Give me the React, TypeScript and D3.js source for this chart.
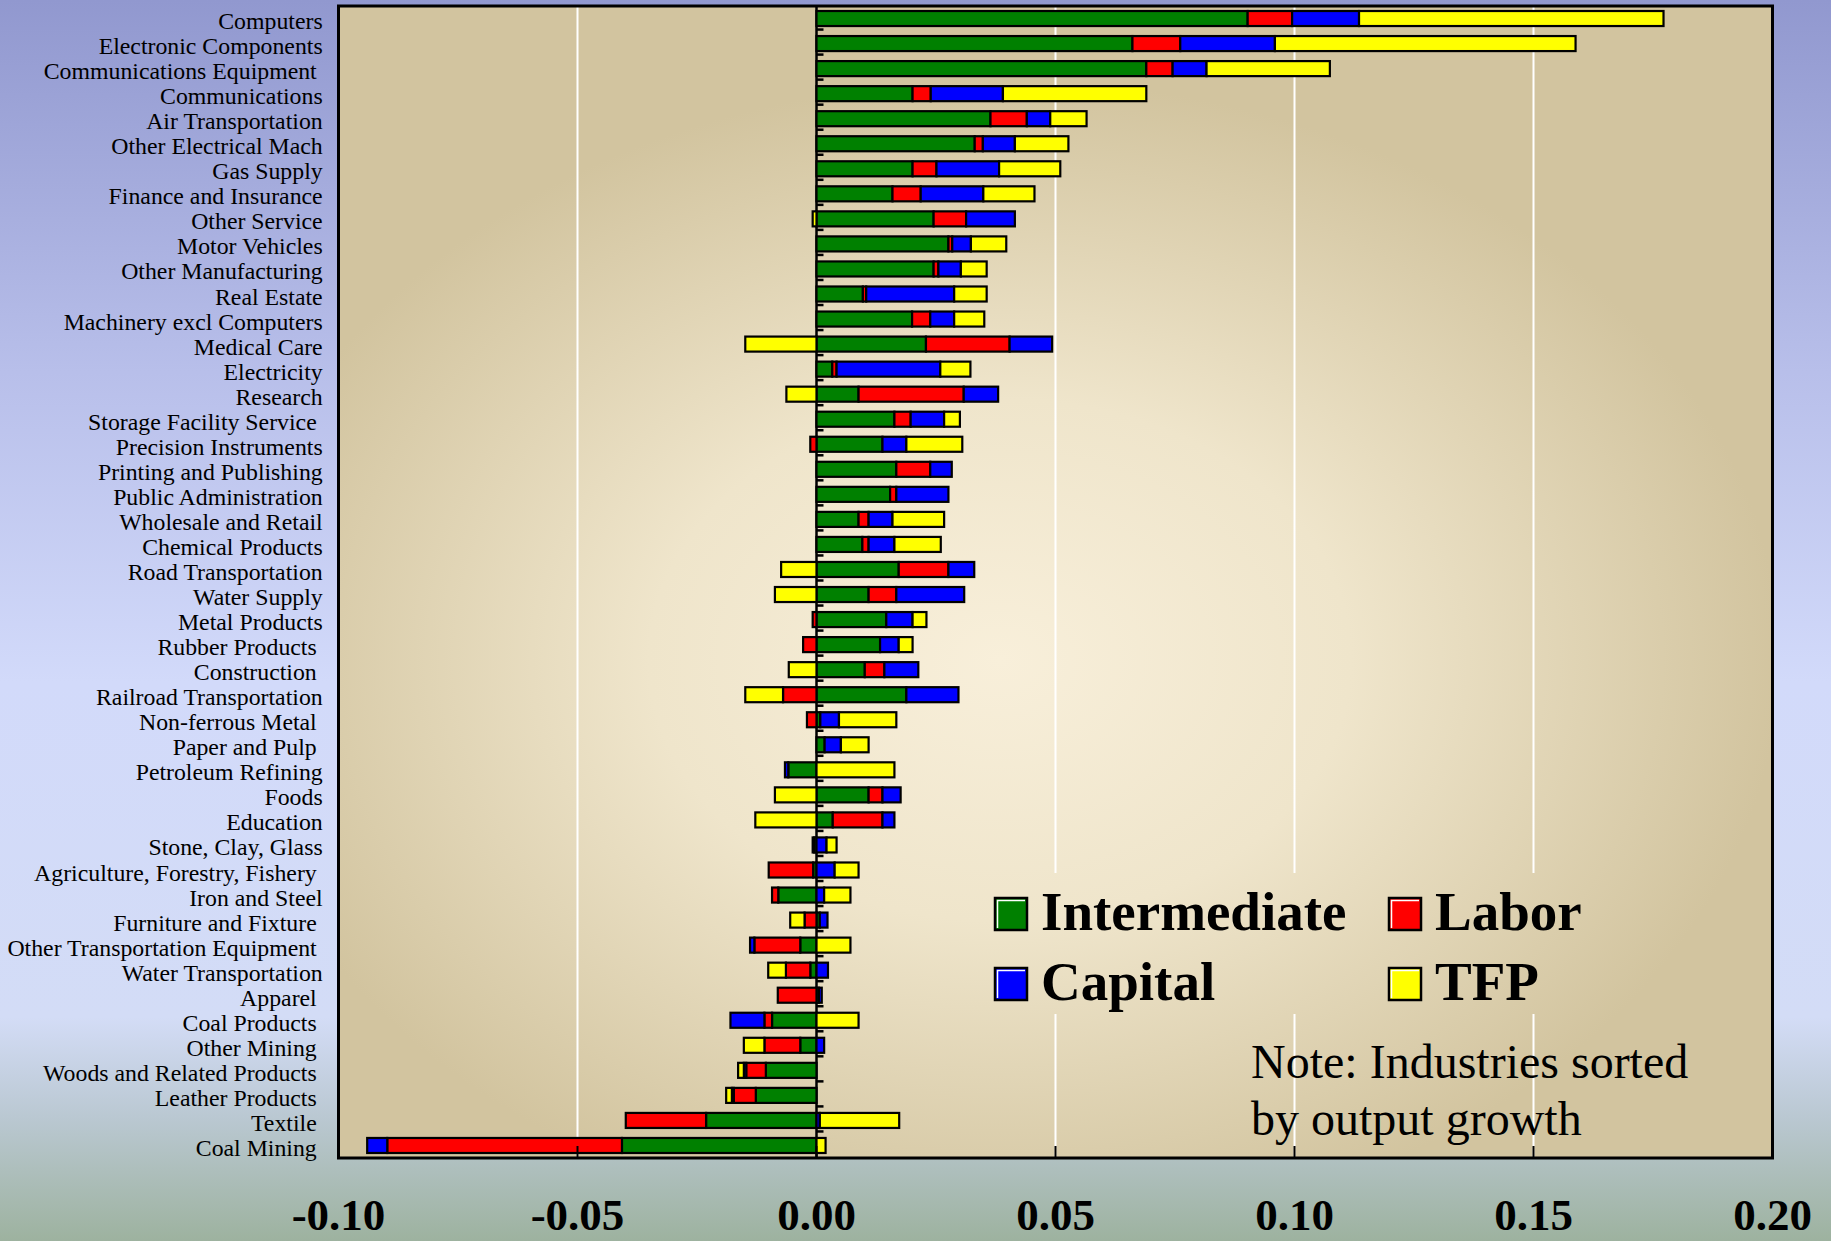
import React from 'react';
import * as d3 from 'd3';

const categories = [
  'Computers', 'Electronic Components', 'Communications Equipment ', 'Communications',
  'Air Transportation', 'Other Electrical Mach', 'Gas Supply', 'Finance and Insurance',
  'Other Service', 'Motor Vehicles', 'Other Manufacturing', 'Real Estate',
  'Machinery excl Computers', 'Medical Care', 'Electricity', 'Research',
  'Storage Facility Service ', 'Precision Instruments', 'Printing and Publishing',
  'Public Administration', 'Wholesale and Retail', 'Chemical Products', 'Road Transportation',
  'Water Supply', 'Metal Products', 'Rubber Products ', 'Construction ',
  'Railroad Transportation', 'Non-ferrous Metal ', 'Paper and Pulp ', 'Petroleum Refining',
  'Foods', 'Education', 'Stone, Clay, Glass', 'Agriculture, Forestry, Fishery ',
  'Iron and Steel', 'Furniture and Fixture ', 'Other Transportation Equipment ',
  'Water Transportation', 'Apparel ', 'Coal Products ', 'Other Mining ',
  'Woods and Related Products ', 'Leather Products ', 'Textile ', 'Coal Mining ',
];

const intermediate = [
  0.0902, 0.0661, 0.069, 0.0201, 0.0364, 0.0331, 0.0201, 0.0159, 0.0245, 0.0276, 0.0245, 0.0097,
  0.02, 0.0229, 0.0033, 0.0088, 0.0163, 0.0138, 0.0167, 0.0154, 0.0088, 0.0096, 0.0172,
  0.0109, 0.0146, 0.0133, 0.0101, 0.0188, 0.0008, 0.0017, -0.0059, 0.0109, 0.0034, -0.0005,
  -0.0007, -0.008, 0.0007, -0.0034, -0.0013, 0.0005, -0.0093, -0.0034, -0.0106, -0.0127,
  -0.0231, -0.0407,
];
const labor = [
  0.0093, 0.01, 0.0055, 0.0038, 0.0076, 0.0017, 0.005, 0.0059, 0.0068, 0.0008, 0.001, 0.0007,
  0.0038, 0.0175, 0.0009, 0.022, 0.0034, -0.0013, 0.0071, 0.0013, 0.0021, 0.0013, 0.0104,
  0.0058, -0.0008, -0.0028, 0.0041, -0.007, -0.002, 0, 0, 0.0029, 0.0104, -0.0003,
  -0.0093, -0.0013, -0.0025, -0.0096, -0.0051, -0.0081, -0.0016, -0.0075, -0.0041, -0.0046,
  -0.0168, -0.0491,
];
const capital = [
  0.014, 0.0198, 0.0071, 0.0151, 0.0049, 0.0067, 0.0131, 0.0131, 0.0102, 0.0039, 0.0047, 0.0184,
  0.005, 0.0089, 0.0217, 0.0072, 0.007, 0.005, 0.0045, 0.0109, 0.005, 0.0054, 0.0054,
  0.0142, 0.0055, 0.0039, 0.0071, 0.0109, 0.0039, 0.0034, -0.0007, 0.0038, 0.0025, 0.0021,
  0.0038, 0.0016, 0.0016, -0.0009, 0.0024, 0.0006, -0.0071, 0.0016, -0.0005, -0.0004,
  0.0007, -0.0042,
];
const tfp = [
  0.0637, 0.0629, 0.0258, 0.03, 0.0076, 0.0112, 0.0128, 0.0107, -0.0008, 0.0074, 0.0054, 0.0068,
  0.0063, -0.0149, 0.0063, -0.0063, 0.0033, 0.0117, 0, 0, 0.0108, 0.0097, -0.0074,
  -0.0087, 0.0029, 0.0029, -0.0058, -0.0079, 0.012, 0.0058, 0.0163, -0.0087, -0.0128, 0.0021,
  0.005, 0.0055, -0.003, 0.0071, -0.0037, 0, 0.0088, -0.0043, -0.0012, -0.0012,
  0.0166, 0.0019,
];

const seriesKeys = ['Intermediate', 'Labor', 'Capital', 'TFP'];
const seriesColors = ['#008000', '#ff0000', '#0000ff', '#ffff00'];
const xTicks = [-0.1, -0.05, 0, 0.05, 0.1, 0.15, 0.2];
const noteLines = ['Note: Industries sorted', 'by output growth'];

const W = 1831;
const H = 1241;
const plot = { left: 338.5, right: 1772.5, top: 6, bottom: 1158 };

export default function App() {
  const rows = categories.map((c, i) => ({
    name: c,
    Intermediate: intermediate[i],
    Labor: labor[i],
    Capital: capital[i],
    TFP: tfp[i],
  }));

  const x = d3.scaleLinear().domain([-0.1, 0.2]).range([plot.left, plot.right]);
  const y = d3
    .scaleBand()
    .domain(categories)
    .range([plot.top, plot.bottom])
    .paddingInner(0.4)
    .paddingOuter(0.2);
  const step = y.step();

  const stacked = d3.stack().keys(seriesKeys).offset(d3.stackOffsetDiverging)(rows as any);
  const fmt = (v) => d3.format('.2f')(v).replace('\u2212', '-');
  const x0 = x(0);

  return (
    <svg width={W} height={H} style={{ position: 'absolute', left: 0, top: 0 }}>
      <defs>
        <linearGradient id="pageBg" x1="0" y1="0" x2="0" y2="1">
          <stop offset="0" stopColor="#9198cf" />
          <stop offset="0.3" stopColor="#b8bfea" />
          <stop offset="0.55" stopColor="#d2dafa" />
          <stop offset="0.82" stopColor="#d3dcf6" />
          <stop offset="0.9" stopColor="#bac8d2" />
          <stop offset="1" stopColor="#9db29f" />
        </linearGradient>
        <radialGradient
          id="plotBg"
          gradientUnits="userSpaceOnUse"
          cx="0"
          cy="0"
          r="1"
          gradientTransform="translate(1000,660) scale(780,580)"
        >
          <stop offset="0" stopColor="#f8efda" />
          <stop offset="0.45" stopColor="#efe5cb" />
          <stop offset="1" stopColor="#d2c49f" />
        </radialGradient>
      </defs>

      <rect x={0} y={0} width={W} height={H} fill="url(#pageBg)" />
      <rect
        x={plot.left}
        y={plot.top}
        width={plot.right - plot.left}
        height={plot.bottom - plot.top}
        fill="url(#plotBg)"
      />

      {/* grid */}
      {xTicks
        .filter((t) => t !== 0 && t > -0.1 && t < 0.2)
        .map((t) => (
          <line key={'g' + t} x1={x(t)} x2={x(t)} y1={plot.top} y2={plot.bottom} stroke="#fff" strokeWidth={2} />
        ))}

      {/* legend box covers the grid */}
      <rect x={975} y={873} width={590} height={141} fill="url(#plotBg)" />

      {/* zero axis with ticks between rows */}
      <line x1={x0} x2={x0} y1={plot.top} y2={plot.bottom} stroke="#000" strokeWidth={2.5} />
      {d3.range(1, categories.length).map((i) => (
        <line
          key={'yt' + i}
          x1={x0}
          x2={x0 + 7}
          y1={plot.top + i * step - 1.5}
          y2={plot.top + i * step - 1.5}
          stroke="#000"
          strokeWidth={2.5}
        />
      ))}

      {/* bars */}
      {stacked.map((s, si) => (
        <g key={s.key} fill={seriesColors[si]} stroke="#000" strokeWidth={2.2}>
          {s.map((d, i) => {
            const a = x(d[0]);
            const b = x(d[1]);
            if (Math.abs(b - a) < 0.5) return null;
            return (
              <rect
                key={i}
                x={Math.min(a, b)}
                y={y(categories[i])}
                width={Math.abs(b - a)}
                height={y.bandwidth()}
              />
            );
          })}
        </g>
      ))}

      {/* bottom ticks */}
      {xTicks
        .filter((t) => t > -0.1 && t < 0.2)
        .map((t) => (
          <line key={'xt' + t} x1={x(t)} x2={x(t)} y1={plot.bottom - 12} y2={plot.bottom} stroke="#000" strokeWidth={2} />
        ))}

      <rect
        x={plot.left}
        y={plot.top}
        width={plot.right - plot.left}
        height={plot.bottom - plot.top}
        fill="none"
        stroke="#000"
        strokeWidth={3}
      />

      {/* category labels */}
      <g fontFamily="'Liberation Serif', 'Times New Roman', serif" fontSize={23.8} fill="#000">
        {categories.map((c) => (
          <text
            key={c}
            x={322.7}
            y={(y(c) as number) + y.bandwidth() / 2 + 10.5}
            textAnchor="end"
            style={{ whiteSpace: 'pre' }}
          >
            {c}
          </text>
        ))}
      </g>

      {/* x tick labels */}
      <g fontFamily="'Liberation Serif', 'Times New Roman', serif" fontSize={45} fontWeight="bold" fill="#000">
        {xTicks.map((t) => (
          <text key={'xl' + t} x={x(t)} y={1230} textAnchor="middle">
            {fmt(t)}
          </text>
        ))}
      </g>

      {/* legend */}
      <g fontFamily="'Liberation Serif', 'Times New Roman', serif" fontSize={55} fontWeight="bold" fill="#000">
        {seriesKeys.map((k, i) => {
          const lx = i % 2 === 0 ? 995 : 1389;
          const ly = i < 2 ? 898 : 968;
          return (
            <g key={k}>
              <rect x={lx} y={ly} width={32} height={32} fill={seriesColors[i]} stroke="#000" strokeWidth={2.5} />
              <polyline
                points={`${lx + 2.5},${ly + 30} ${lx + 2.5},${ly + 2.5} ${lx + 30},${ly + 2.5}`}
                fill="none"
                stroke="#fff"
                strokeWidth={1.5}
              />
              <text x={lx + 46} y={ly + 32}>
                {k}
              </text>
            </g>
          );
        })}
      </g>

      {/* note */}
      <g fontFamily="'Liberation Serif', 'Times New Roman', serif" fontSize={48} fill="#000">
        {noteLines.map((l, i) => (
          <text key={l} x={1251} y={1078 + i * 57}>
            {l}
          </text>
        ))}
      </g>
    </svg>
  );
}
